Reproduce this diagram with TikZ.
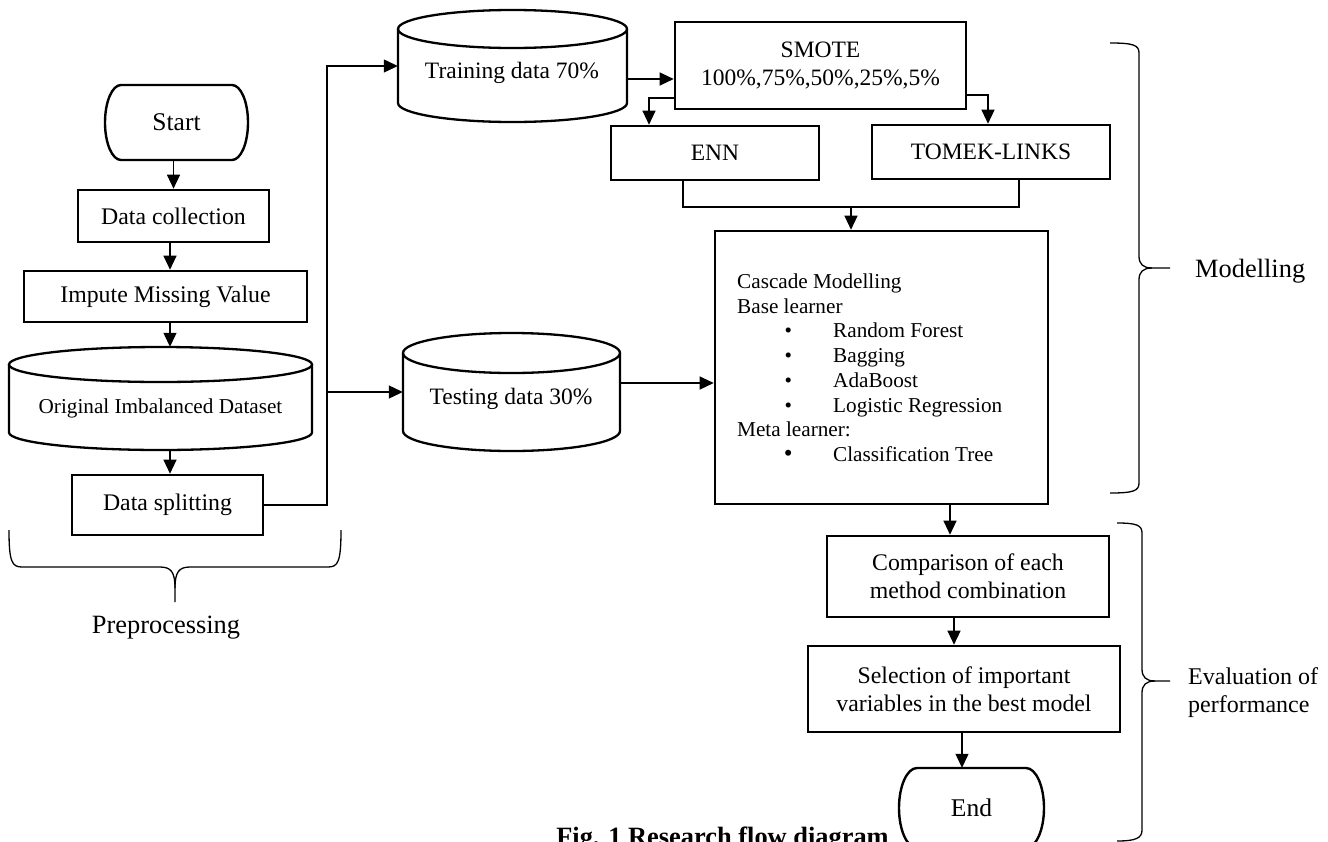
\documentclass[tikz,border=0pt]{standalone}
\usepackage{fontspec}
\setmainfont{Liberation Serif}
\usetikzlibrary{arrows.meta,calc}
\newcommand{\fs}[2]{\fontsize{#1}{#2}\selectfont}
% terminal: cx, cy, halfw, halfh, rx
\newcommand{\termshape}[5]{%
  \draw[line width=2.4pt] ({#1-#3+#5},{#2+#4}) -- ({#1+#3-#5},{#2+#4})
    arc[start angle=90,end angle=-90,x radius=#5,y radius=#4]
    -- ({#1-#3+#5},{#2-#4})
    arc[start angle=270,end angle=90,x radius=#5,y radius=#4] -- cycle;}
% cylinder: cx, top, bottom, halfw, ry
\newcommand{\dbcyl}[5]{%
  \draw[cylline] ({#1-#4},{#2-#5}) -- ({#1-#4},{#3+#5})
    arc[start angle=180,end angle=360,x radius=#4,y radius=#5]
    -- ({#1+#4},{#2-#5});
  \draw[cylline] (#1,{#2-#5}) ellipse[x radius=#4,y radius=#5];}
\begin{document}
\begin{tikzpicture}[x=1pt,y=1pt,
  box/.style={draw, line width=2.6pt, inner sep=0pt, align=center, font=\fs{23.8}{28}},
  hid/.style={draw=none, inner sep=0pt},
  txt/.style={inner sep=0pt, font=\fs{23.5}{28}},
  ct/.style={inner sep=0pt, font=\fs{21.2}{24}},
  conn/.style={line width=1.2pt},
  arr/.style={conn, -{Triangle[length=14pt,width=13pt]}},
  cylline/.style={line width=2.3pt},
  brace/.style={line width=1.3pt}
]
\fill[white] (0,0) rectangle (1328,-841);
\useasboundingbox (0,0) rectangle (1328,-841);

% ---------- left column ----------
\node[hid, minimum width=143, minimum height=75, font=\fs{25.5}{28}] (start) at (176.5,-122.5) {Start};
\termshape{176.5}{-122.5}{71.5}{37.5}{16}
\node[box, minimum width=191, minimum height=52] (dc) at (173.5,-216) {Data collection};
\node[box, minimum width=283, minimum height=51] (imp) at (165.5,-296.5) {Impute Missing Value};
\node[hid, minimum width=303, minimum height=103] (orig) at (160.5,-398.5) {};
\dbcyl{160.5}{-347}{-450}{151.5}{17.5}
\node[ct] (origt) at (160.5,-408) {Original Imbalanced Dataset};
\node[box, minimum width=191, minimum height=60] (split) at (167.5,-505) {Data splitting};

\coordinate (ax) at (170,0);
\draw[arr] (start.south -| dc.north) -- (dc.north);
\draw[arr] (dc.south -| ax) -- (imp.north -| ax);
\draw[arr] (imp.south -| ax) -- (orig.north -| ax);
\draw[arr] (orig.south -| ax) -- (split.north -| ax);

% ---------- data cylinders ----------
\node[hid, minimum width=229, minimum height=112] (train) at (512.5,-66) {};
\dbcyl{512.5}{-10}{-122}{114.5}{19}
\node[txt] (traint) at (512,-73) {Training data 70\%};
\node[hid, minimum width=217, minimum height=118] (test) at (511.5,-392) {};
\dbcyl{511.5}{-333}{-451}{108.5}{20}
\node[txt] (testt) at (511,-399) {Testing data 30\%};

\coordinate (bx) at (327,0);
\draw[arr] (split.east) -- (split.east -| bx) -- (bx |- train.west) -- (train.west);
\draw[arr] (bx |- test.west) -- (test.west);

% ---------- resampling ----------
\node[box, minimum width=291, minimum height=87, font=\fs{23.5}{28}] (smote) at (820.5,-65.5) {SMOTE\\100\%,75\%,50\%,25\%,5\%};
\node[box, minimum width=208, minimum height=54, font=\fs{23.5}{28}] (enn) at (715,-153) {ENN};
\node[box, minimum width=238, minimum height=54, font=\fs{23.5}{28}] (tomek) at (991,-152) {TOMEK-LINKS};

\coordinate (ty) at (0,-79);
\draw[arr] (train.east |- ty) -- (smote.west |- ty);
\coordinate (ey) at (0,-98);
\coordinate (ex) at (649,0);
\draw[arr] (smote.west |- ey) -| (enn.north -| ex);
\coordinate (ty2) at (0,-95);
\coordinate (tx) at (988,0);
\draw[arr] (smote.east |- ty2) -| (tomek.north -| tx);

% ---------- cascade ----------
\node[box, minimum width=333, minimum height=273] (casc) at (881.5,-367.5) {};
\coordinate (jy) at (0,-207);
\coordinate (jx1) at (683,0);
\coordinate (jx2) at (1019,0);
\coordinate (cx) at (851,0);
\draw[conn] (enn.south -| jx1) -- (jx1 |- jy) -- (jx2 |- jy) -- (tomek.south -| jx2);
\draw[arr] (cx |- jy) -- (casc.north -| cx);
\coordinate (tsy) at (0,-383);
\draw[arr] (test.east |- tsy) -- (casc.west |- tsy);

\node[ct, anchor=base west] (l0) at (737,-288.3) {Cascade Modelling};
\node[ct, anchor=base west] (l1) at (737,-313.1) {Base learner};
\node[ct, anchor=base] (b2) at (788.3,-337.8) {\textbullet};
\node[ct, anchor=base west] (l2) at (833,-337.8) {Random Forest};
\node[ct, anchor=base] (b3) at (788.3,-362.6) {\textbullet};
\node[ct, anchor=base west] (l3) at (833,-362.6) {Bagging};
\node[ct, anchor=base] (b4) at (788.3,-387.3) {\textbullet};
\node[ct, anchor=base west] (l4) at (833,-387.3) {AdaBoost};
\node[ct, anchor=base] (b5) at (788.3,-412.1) {\textbullet};
\node[ct, anchor=base west] (l5) at (833,-412.1) {Logistic Regression};
\node[ct, anchor=base west] (l6) at (737,-436.9) {Meta learner:};
\node[ct, anchor=base, font=\fs{25}{24}] (b7) at (788.3,-461.6) {\textbullet};
\node[ct, anchor=base west] (l7) at (833,-461.6) {Classification Tree};

% ---------- evaluation ----------
\node[box, minimum width=282, minimum height=81] (comp) at (968,-576.5) {Comparison of each\\method combination};
\node[box, minimum width=312, minimum height=86] (sel) at (964,-689) {Selection of important\\variables in the best model};
\node[hid, minimum width=145, minimum height=80, font=\fs{25.5}{28}] (end) at (971.5,-808) {End};
\termshape{971.5}{-808}{72.5}{40}{18}

\coordinate (k1) at (950,0);
\coordinate (k2) at (954,0);
\coordinate (k3) at (962,0);
\draw[arr] (casc.south -| k1) -- (comp.north -| k1);
\draw[arr] (comp.south -| k2) -- (sel.north -| k2);
\draw[arr] (sel.south -| k3) -- (end.north -| k3);

% ---------- braces ----------
\draw[brace] (9,-530) .. controls (9,-562) and (12,-567) .. (22,-567) -- (160,-567)
  .. controls (171,-567) and (175,-572) .. (175,-588) -- (175,-602);
\draw[brace] (175,-588) .. controls (175,-572) and (179,-567) .. (190,-567) -- (328,-567)
  .. controls (338,-567) and (341,-562) .. (341,-530);
\node[inner sep=0pt, font=\fs{26.4}{30}, anchor=base] (prep) at (166,-633) {Preprocessing};

\draw[brace] (1110,-43) .. controls (1133,-43) and (1139,-45) .. (1139,-53) -- (1139,-256)
  .. controls (1139,-264) and (1143,-268) .. (1152,-268) -- (1170,-268);
\draw[brace] (1152,-268) .. controls (1143,-268) and (1139,-272) .. (1139,-280) -- (1139,-483)
  .. controls (1139,-491) and (1133,-493) .. (1110,-493);
\node[inner sep=0pt, font=\fs{26.4}{30}, anchor=base west] (modl) at (1195,-277) {Modelling};

\draw[brace] (1117,-523) .. controls (1136,-523) and (1142,-525) .. (1142,-533) -- (1142,-669)
  .. controls (1142,-677) and (1146,-681) .. (1155,-681) -- (1170,-681);
\draw[brace] (1155,-681) .. controls (1146,-681) and (1142,-685) .. (1142,-693) -- (1142,-830)
  .. controls (1142,-838) and (1136,-841) .. (1117,-841);
\node[inner sep=0pt, font=\fs{24}{28}, anchor=base west] (ev1) at (1188,-684) {Evaluation of};
\node[inner sep=0pt, font=\fs{24}{28}, anchor=base west] (ev2) at (1188,-712) {performance};

% ---------- caption (cut by the page edge, as in the reference) ----------
\node[inner sep=0pt, font=\bfseries\fs{26.4}{30}, anchor=base] (cap) at (722.5,-845.5) {Fig. 1 Research flow diagram};
\end{tikzpicture}
\end{document}
